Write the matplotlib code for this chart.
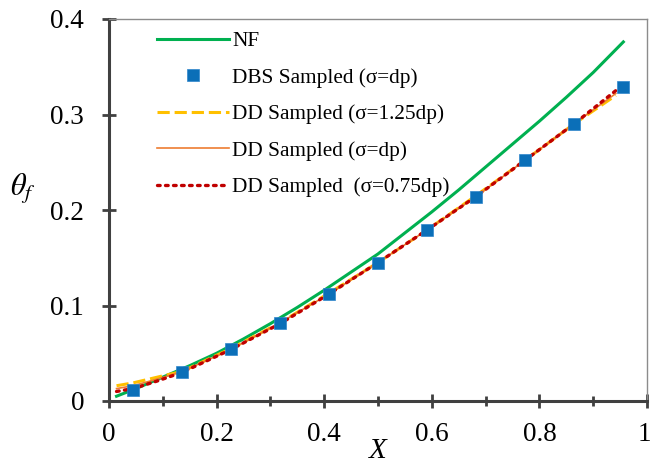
import numpy as np
import matplotlib
matplotlib.use("Agg")
import matplotlib.pyplot as plt
from matplotlib.transforms import ScaledTranslation

plt.rcParams['font.family'] = ['Liberation Serif', 'DejaVu Serif']
plt.rcParams['mathtext.fontset'] = 'stix'

# NF curve
nf_x = [0.014, 0.05, 0.1, 0.15, 0.2, 0.25, 0.3, 0.35, 0.4, 0.45, 0.5,
        0.55, 0.6, 0.65, 0.7, 0.75, 0.8, 0.85, 0.9, 0.956]
nf_y = [0.005, 0.013, 0.025, 0.037, 0.050, 0.065, 0.081, 0.098, 0.116, 0.135, 0.154,
        0.176, 0.198, 0.221, 0.245, 0.269, 0.293, 0.318, 0.344, 0.376]

# DBS sampled points
dbs_x = [0.045, 0.136, 0.227, 0.318, 0.409, 0.5, 0.591, 0.682, 0.773, 0.864, 0.955]
dbs_y = [0.011, 0.030, 0.054, 0.082, 0.112, 0.145, 0.179, 0.214, 0.252, 0.290, 0.329]

# DD sampled curves for the three sigma values
dd_x = [0.014, 0.045, 0.09, 0.136, 0.227, 0.318, 0.409, 0.5, 0.591, 0.682, 0.773, 0.864, 0.942]
dd_125 = [0.016, 0.019, 0.025, 0.031, 0.055, 0.082, 0.113, 0.145, 0.179, 0.215, 0.252, 0.290, 0.320]
dd_100 = [0.013, 0.016, 0.023, 0.031, 0.054, 0.082, 0.112, 0.145, 0.179, 0.214, 0.252, 0.290, 0.322]
dd_075 = [0.010, 0.013, 0.021, 0.030, 0.054, 0.081, 0.112, 0.145, 0.179, 0.214, 0.252, 0.290, 0.325]

# axis ticks
x_ticks = [0, 0.2, 0.4, 0.6, 0.8, 1.0]
x_labels = ['0', '0.2', '0.4', '0.6', '0.8', '1']
x_minor = [0.1, 0.3, 0.5, 0.7, 0.9]
y_ticks = [0, 0.1, 0.2, 0.3, 0.4]
y_labels = ['0', '0.1', '0.2', '0.3', '0.4']

fig = plt.figure(figsize=(6.51, 4.68), dpi=100)
ax = fig.add_axes([109/651, 67/468, 538/651, 382/468])

ax.plot(nf_x, nf_y, color='#00B050', lw=2.2, label='NF', zorder=3)
ax.plot(dbs_x, dbs_y, ls='none', marker='s', ms=9, color='#0B6FB8',
        mec='#2E86CC', mew=0.5, label='DBS Sampled (σ=dp)', zorder=6)
ax.plot(dd_x, dd_125, color='#FFC000', lw=2.2, ls=(0, (4, 1.6)),
        label='DD Sampled (σ=1.25dp)', zorder=3)
ax.plot(dd_x, dd_100, color='#ED7D31', lw=1.2, label='DD Sampled (σ=dp)', zorder=4)
ax.plot(dd_x, dd_075, color='#C00000', lw=2.4, ls=(0, (0.8, 1.6)),
        dash_capstyle='round', label='DD Sampled  (σ=0.75dp)', zorder=5)

ax.set_xlim(0, 1)
ax.set_ylim(0, 0.4)
ax.set_xticks(x_ticks, x_labels)
ax.set_xticks(x_minor, minor=True)
ax.set_yticks(y_ticks, y_labels)

for side in ['left', 'bottom']:
    ax.spines[side].set_color('#404040')
    ax.spines[side].set_linewidth(2.2)
for side in ['top', 'right']:
    ax.spines[side].set_color('#8C8C8C')
    ax.spines[side].set_linewidth(1.0)

ax.tick_params(which='major', direction='inout', length=10, width=2.0,
               color='#404040', labelsize=19.5)
ax.tick_params(which='minor', direction='inout', length=7, width=2.0, color='#404040')
ax.tick_params(axis='x', which='major', pad=10)
ax.tick_params(axis='y', which='major', pad=13)

# nudge the "1" label left so it stays inside the figure
last = ax.xaxis.get_major_ticks()[-1].label1
last.set_transform(last.get_transform() + ScaledTranslation(-3/100, 0, fig.dpi_scale_trans))

ax.set_xlabel('X', fontsize=21, style='italic', labelpad=-6)
ax.text(-0.16, 0.555, r'$\theta_f$', transform=ax.transAxes, fontsize=22,
        ha='center', va='center')

fig.legend(loc='upper left', bbox_to_anchor=(157/651, 1 - 31.5/468),
           frameon=False, fontsize=15.3, handlelength=3.4, handletextpad=0.15,
           labelspacing=0.78, borderpad=0, borderaxespad=0, numpoints=1)

fig.savefig('out.png', dpi=100)
